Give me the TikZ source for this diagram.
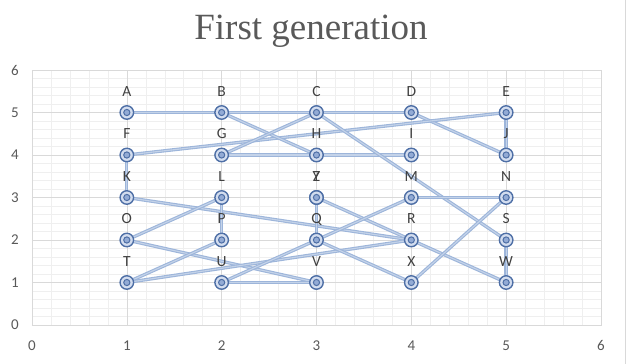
\documentclass[tikz,border=0pt]{standalone}
\usepackage{fontspec}
\setmainfont{Carlito}
\newfontfamily\titlefont{Liberation Serif}
\usetikzlibrary{backgrounds}
\definecolor{lineblue}{HTML}{9DB5DA}
\definecolor{mkring}{HTML}{4E6FA6}
\definecolor{mkfill}{HTML}{D3DDEF}
\definecolor{mkinner}{HTML}{93ABD5}
\definecolor{labgray}{HTML}{404040}
\definecolor{axgray}{HTML}{595959}
\definecolor{majgrid}{HTML}{D9D9D9}
\definecolor{mingrid}{HTML}{EFEFEF}
\begin{document}
\begin{tikzpicture}[x=94.83pt,y=42.5pt,
  mk/.style={circle, draw=mkring, line width=1.4pt, fill=mkfill, minimum size=13.5pt, inner sep=0pt,
    path picture={\draw[mkring, line width=1pt, fill=mkinner] (path picture bounding box.center) circle (3.1pt);}},
  lab/.style={anchor=base, text=labgray, font=\fontsize{15.5}{16}\selectfont, inner sep=0pt},
  axlab/.style={text=axgray, font=\fontsize{15}{16}\selectfont, inner sep=0pt},
  edge/.style={draw=lineblue, line width=1.1pt, double=white!40!lineblue, double distance=1.1pt},
  minorgrid/.style={draw=mingrid, line width=0.5pt},
  majorgrid/.style={draw=majgrid, line width=0.6pt}]
\useasboundingbox (-0.3374,-0.9176) rectangle (6.2851,7.6471);
% markers and labels
\foreach \n/\x/\y in {A/1/5,B/2/5,C/3/5,D/4/5,E/5/5,F/1/4,G/2/4,H/3/4,I/4/4,J/5/4,K/1/3,L/2/3,Y/3/3,M/4/3,N/5/3,O/1/2,P/2/2,Q/3/2,R/4/2,S/5/2,T/1/1,U/2/1,V/3/1,X/4/1,W/5/1}{
  \node[mk] (\n) at (\x,\y) {};
  \node[lab] (l\n) at (\x,\y+0.385) {\n};
}
\node[mk] (Z) at (3,3) {};
\node[lab] (lZ) at (3,3.385) {Z};
% title
\node[anchor=base, text=axgray, font=\titlefont\fontsize{37}{40}\selectfont, inner sep=0pt] (title) at (2.942,6.706) {First generation};
% axis labels
\foreach \v in {0,...,6}{
  \node[axlab, anchor=east] (ay\v) at (-0.137,\v) {\v};
  \node[axlab] (ax\v) at (\v,-0.494) {\v};
}
\begin{scope}[on background layer]
  \draw[minorgrid, xstep=0.2, ystep=0.2] (0,0) grid (6,6);
  \draw[majorgrid, xstep=1, ystep=1] (0,0) grid (6,6);
  \draw[majorgrid] (0,0) rectangle (6,6);
  \draw[majorgrid] (6.254,-0.9176) -- (6.254,7.6471);
  \foreach \a/\b in {A/B,B/C,C/D,E/J,D/J,F/E,B/H,G/C,G/H,H/I,C/S,F/K,K/R,L/O,L/P,Z/R,R/W,Z/Q,O/V,T/P,T/R,U/V,U/Q,Q/M,Q/X,M/N,N/X,S/W}{
    \draw[edge] (\a.center) -- (\b.center);
  }
\end{scope}
\end{tikzpicture}
\end{document}
